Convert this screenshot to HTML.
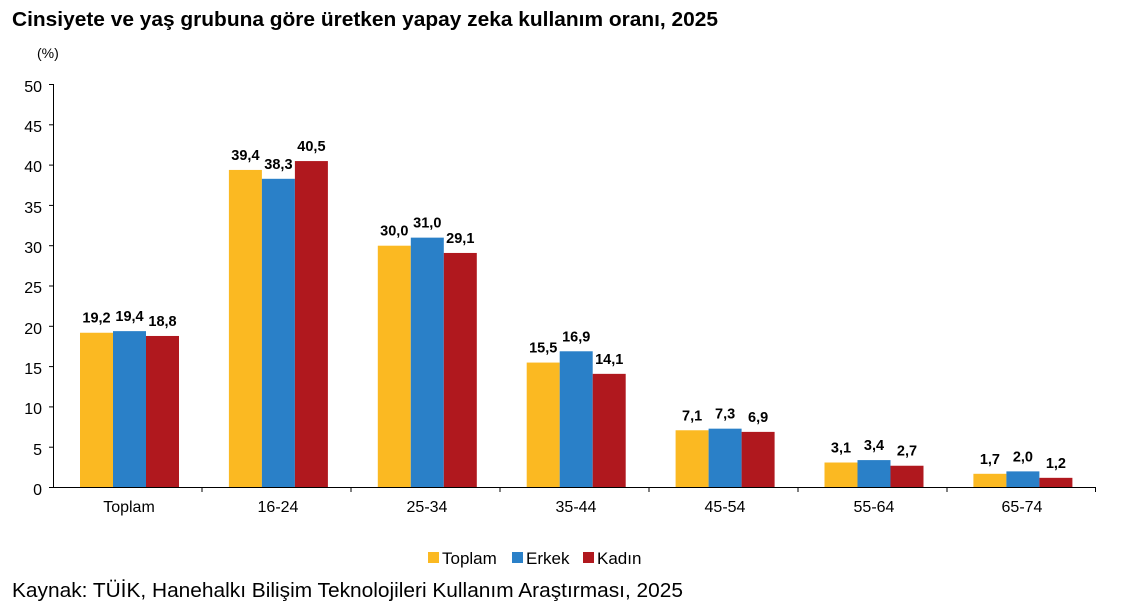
<!DOCTYPE html>
<html><head><meta charset="utf-8"><style>
body{margin:0;background:#fff;width:1128px;height:612px;overflow:hidden}
svg{display:block;font-family:"Liberation Sans",Arial,sans-serif}
</style></head><body>
<svg width="1128" height="612" viewBox="0 0 1128 612">
<text x="12" y="26" font-size="20.5" font-weight="bold" fill="#000" textLength="706" lengthAdjust="spacingAndGlyphs">Cinsiyete ve yaş grubuna göre üretken yapay zeka kullanım oranı, 2025</text>
<text x="37" y="58" font-size="14" fill="#000">(%)</text>
<g font-size="16" fill="#000" text-anchor="end">
<text x="42" y="92">50</text><text x="42" y="132">45</text><text x="42" y="172">40</text>
<text x="42" y="213">35</text><text x="42" y="253">30</text><text x="42" y="293">25</text>
<text x="42" y="334">20</text><text x="42" y="374">15</text><text x="42" y="414">10</text>
<text x="42" y="455">5</text><text x="42" y="495">0</text>
</g>
<g stroke="#000" stroke-width="1">
<line x1="53.5" y1="84" x2="53.5" y2="488"/>
<line x1="49" y1="84.5" x2="53" y2="84.5"/><line x1="49" y1="124.8" x2="53" y2="124.8"/>
<line x1="49" y1="165.1" x2="53" y2="165.1"/><line x1="49" y1="205.4" x2="53" y2="205.4"/>
<line x1="49" y1="245.7" x2="53" y2="245.7"/><line x1="49" y1="286" x2="53" y2="286"/>
<line x1="49" y1="326.3" x2="53" y2="326.3"/><line x1="49" y1="366.6" x2="53" y2="366.6"/>
<line x1="49" y1="406.9" x2="53" y2="406.9"/><line x1="49" y1="447.2" x2="53" y2="447.2"/>
<line x1="49" y1="487.5" x2="53" y2="487.5"/>
</g>
<g id="bars"></g>
<g stroke="#000" stroke-width="1">
<line x1="53" y1="487.5" x2="1096" y2="487.5"/>
<line x1="202" y1="487" x2="202" y2="492"/><line x1="351" y1="487" x2="351" y2="492"/>
<line x1="500" y1="487" x2="500" y2="492"/><line x1="649" y1="487" x2="649" y2="492"/>
<line x1="798" y1="487" x2="798" y2="492"/><line x1="947" y1="487" x2="947" y2="492"/>
<line x1="1095.5" y1="487" x2="1095.5" y2="492"/>
</g>
<g font-size="16" fill="#000" text-anchor="middle">
<text x="129" y="512">Toplam</text><text x="278" y="512">16-24</text><text x="427" y="512">25-34</text>
<text x="576" y="512">35-44</text><text x="725" y="512">45-54</text><text x="874" y="512">55-64</text>
<text x="1022" y="512">65-74</text>
</g>
<rect x="428" y="552" width="11" height="11" fill="#FBB922"/>
<text x="442" y="564" font-size="17">Toplam</text>
<rect x="512" y="552" width="11" height="11" fill="#2A80C8"/>
<text x="526" y="564" font-size="17">Erkek</text>
<rect x="583" y="552" width="11" height="11" fill="#B0181E"/>
<text x="597" y="564" font-size="17">Kadın</text>
<text x="12" y="597" font-size="20" fill="#000" textLength="671" lengthAdjust="spacingAndGlyphs">Kaynak: TÜİK, Hanehalkı Bilişim Teknolojileri Kullanım Araştırması, 2025</text>
<g id="labels" font-size="14.5" font-weight="bold" fill="#000" text-anchor="middle"></g>
</svg>
<script>
var d=[[19.2,19.4,18.8],[39.4,38.3,40.5],[30.0,31.0,29.1],[15.5,16.9,14.1],[7.1,7.3,6.9],[3.1,3.4,2.7],[1.7,2.0,1.2]];
var c=["#FBB922","#2A80C8","#B0181E"],ns="http://www.w3.org/2000/svg";
var b=document.getElementById("bars"),l=document.getElementById("labels");
d.forEach(function(g,i){g.forEach(function(v,j){
var x=80+i*148.9+j*33,h=v*8.06,y=487.5-h;
var r=document.createElementNS(ns,"rect");r.setAttribute("x",x);r.setAttribute("y",y);r.setAttribute("width",33);r.setAttribute("height",h);r.setAttribute("fill",c[j]);b.appendChild(r);
var t=document.createElementNS(ns,"text");t.setAttribute("x",x+16.5);t.setAttribute("y",y-10);t.textContent=v.toFixed(1).replace(".",",");l.appendChild(t);
});});
</script>
</body></html>
